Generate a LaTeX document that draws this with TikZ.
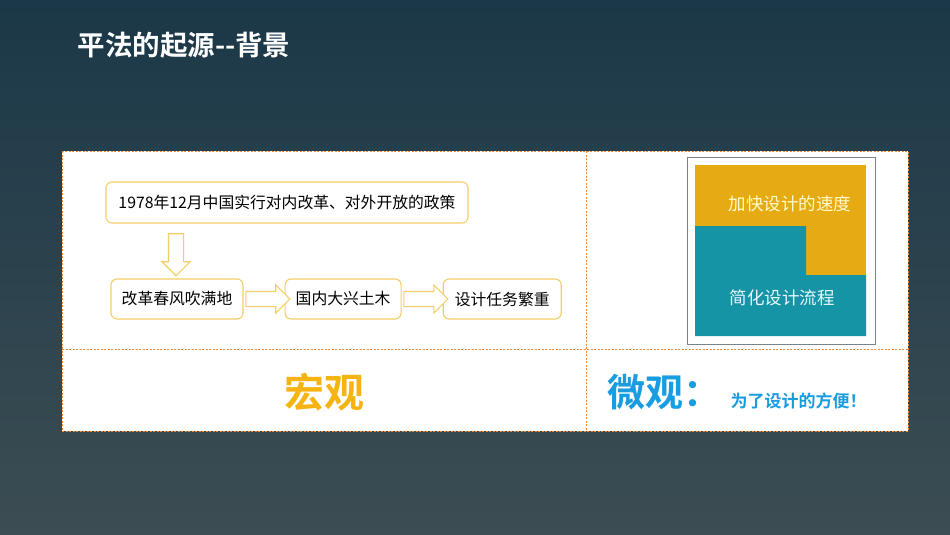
\documentclass[tikz,border=0pt]{standalone}
\usepackage{fontspec}
\setmainfont{Noto Sans CJK SC}
\newfontfamily\cjkbold{Noto Sans CJK SC Bold}
\usetikzlibrary{positioning, calc, shapes.arrows}
\definecolor{bgtop}{HTML}{1B3848}
\definecolor{bgbot}{HTML}{3C4D53}
\definecolor{boxline}{HTML}{F2CF66}
\definecolor{dashorange}{HTML}{F08A3C}
\definecolor{speedorange}{HTML}{E6AA12}
\definecolor{flowteal}{HTML}{1494A4}
\definecolor{macroorange}{HTML}{F6B412}
\definecolor{microblue}{HTML}{1A9CE0}
\definecolor{framegray}{HTML}{7A8290}
\begin{document}
\begin{tikzpicture}[x=1pt, y=-1pt,
	stepbox/.style={rectangle, draw=boxline, line width=1.1pt, rounded corners=6pt, fill=white, minimum height=40pt, inner sep=0pt, font=\fontsize{15.8}{18}\selectfont},
	hollow/.style={single arrow, draw=boxline, line width=1.1pt, fill=white, inner sep=7pt, single arrow head extend=6.5pt, minimum height=42pt},
	cutline/.style={draw=dashorange, dash pattern=on 2pt off 1.5pt, line width=0.7pt},
	sqtext/.style={font=\fontsize{17.5}{20}\selectfont},
	>=latex
]
\useasboundingbox (0,0) rectangle (950,535);
\shade[top color=bgtop, bottom color=bgbot] (0,0) rectangle (950,535);

\node[anchor=west, text=white, font=\cjkbold\fontsize{27.5}{32}\selectfont] (title) at (74,45) {平法的起源--背景};

% panel
\fill[white] (62,151) rectangle (908,431);
\draw[cutline] (62,151) rectangle (908,431);
\draw[cutline] (62,349) -- (908,349);
\draw[cutline] (586,151) -- (586,431);

% left flow
\node[stepbox, minimum width=362pt, minimum height=41pt] (policy) at (287,202.5) {1978年12月中国实行对内改革、对外开放的政策};
\node[stepbox, minimum width=132pt] (reform) at (177,299) {改革春风吹满地};
\node[stepbox, minimum width=116pt, right=41pt of reform] (build) {国内大兴土木};
\node[stepbox, minimum width=118pt, right=41pt of build] (heavy) {设计任务繁重};

\node[hollow, shape border rotate=270] (down) at (176,251) {};
\node[hollow, minimum height=44pt] (arrA) at ($(reform.east)!0.5!(build.west)$) {};
\node[hollow, minimum height=44pt] (arrB) at ($(build.east)!0.5!(heavy.west)$) {};

% right square
\draw[draw=framegray, line width=0.8pt, fill=white] (687,157) rectangle (875,344);
\fill[speedorange] (695,165) rectangle (866,336);
\fill[flowteal] (695,226) -- (806,226) -- (806,275) -- (866,275) -- (866,336) -- (695,336) -- cycle;
\node[sqtext, text=yellow!20!white] (speed) at (790,204) {加快设计的速度};
\node[sqtext, text=cyan!10!white] (simple) at (782,298) {简化设计流程};

% bottom labels
\node[text=macroorange, font=\cjkbold\fontsize{40}{44}\selectfont] (macro) at (324,392) {宏观};
\node[anchor=west, text=microblue, font=\cjkbold\fontsize{38}{42}\selectfont] (micro) at (604,392) {微观：};
\node[anchor=west, text=microblue, font=\cjkbold\fontsize{17}{20}\selectfont] (reason) at (727,401) {为了设计的方便！};
\end{tikzpicture}
\end{document}
